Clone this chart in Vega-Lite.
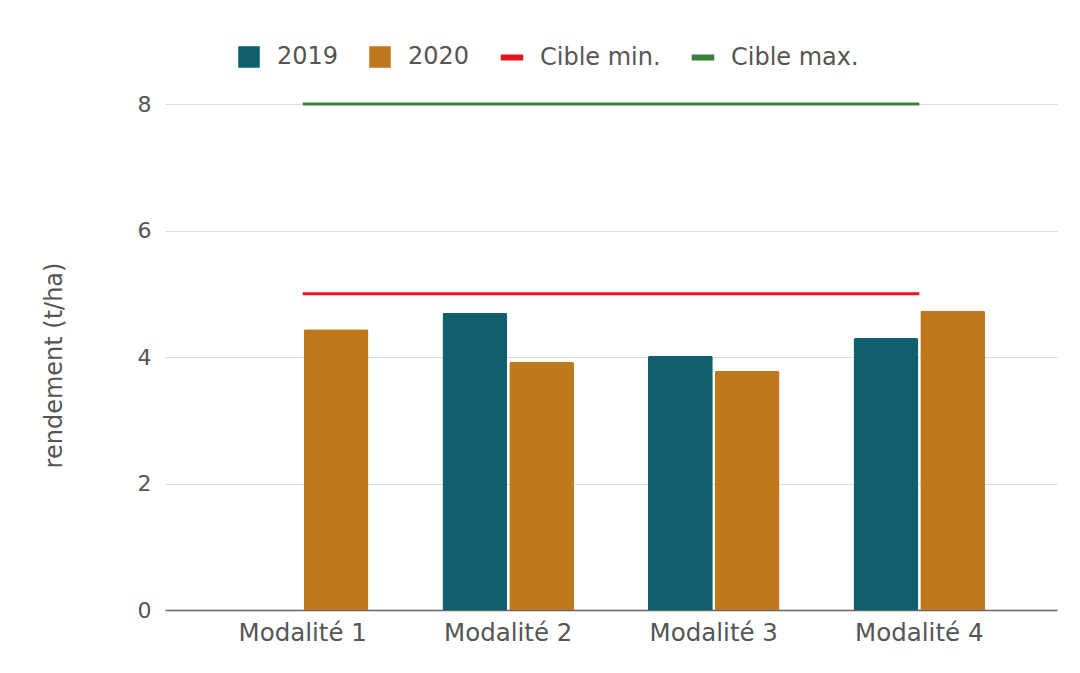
{
  "$schema": "https://vega.github.io/schema/vega-lite/v6.json",
  "autosize": "none",
  "width": 892,
  "height": 506,
  "padding": {"left": 165, "top": 104, "right": 23, "bottom": 63},
  "background": "white",
  "config": {
    "font": "DejaVu Sans",
    "view": {"stroke": null},
    "axis": {"labelFont": "DejaVu Sans", "titleFont": "DejaVu Sans", "labelColor": "#555", "titleColor": "#555"}
  },
  "datasets": {
    "bars": [
      {"modalite": "Modalité 1", "serie": "2020", "rendement": 4.44},
      {"modalite": "Modalité 2", "serie": "2019", "rendement": 4.70},
      {"modalite": "Modalité 2", "serie": "2020", "rendement": 3.92},
      {"modalite": "Modalité 3", "serie": "2019", "rendement": 4.02},
      {"modalite": "Modalité 3", "serie": "2020", "rendement": 3.78},
      {"modalite": "Modalité 4", "serie": "2019", "rendement": 4.30},
      {"modalite": "Modalité 4", "serie": "2020", "rendement": 4.73}
    ],
    "cibles": [
      {"modalite": "Modalité 1", "serie": "Cible min.", "rendement": 5},
      {"modalite": "Modalité 4", "serie": "Cible min.", "rendement": 5},
      {"modalite": "Modalité 1", "serie": "Cible max.", "rendement": 8},
      {"modalite": "Modalité 4", "serie": "Cible max.", "rendement": 8}
    ]
  },
  "layer": [
    {
      "data": {"name": "bars"},
      "mark": {"type": "bar", "cornerRadiusTopLeft": 2, "cornerRadiusTopRight": 2},
      "encoding": {
        "x": {
          "field": "modalite", "type": "nominal",
          "sort": ["Modalité 1", "Modalité 2", "Modalité 3", "Modalité 4"],
          "scale": {"domain": ["Modalité 1", "Modalité 2", "Modalité 3", "Modalité 4"], "paddingInner": 0.36, "paddingOuter": 0.35},
          "axis": {"title": null, "labelAngle": 0, "labelFontSize": 24.5, "labelPadding": 11, "ticks": false, "domainColor": "#666", "domainWidth": 1.5, "grid": false}
        },
        "xOffset": {
          "field": "serie", "type": "nominal",
          "scale": {"domain": ["2019", "2020"], "paddingInner": 0.03, "paddingOuter": 0}
        },
        "y": {
          "field": "rendement", "type": "quantitative",
          "scale": {"domain": [0, 8], "nice": false},
          "axis": {"title": "rendement (t/ha)", "values": [0, 2, 4, 6, 8], "format": "d", "labelFontSize": 22, "labelPadding": 14, "titleFontSize": 24, "titleFontWeight": "normal", "titlePadding": 71, "titleY": 261, "ticks": false, "domain": false, "gridColor": "#dddddd", "gridWidth": 1}
        },
        "color": {
          "field": "serie", "type": "nominal",
          "scale": {"domain": ["2019", "2020", "Cible min.", "Cible max."], "range": ["#0f5f6f", "#c0781c", "#e3161d", "#3e7d3a"]},
          "legend": {
            "title": null,
            "orient": "none",
            "direction": "horizontal",
            "legendX": 72,
            "legendY": -59,
            "padding": 0,
            "symbolSize": 400,
            "labelFontSize": 24,
            "labelColor": "#555",
            "labelFont": "DejaVu Sans",
            "labelOffset": 16,
            "columnPadding": 28,
            "encode": {
              "symbols": {
                "update": {
                  "shape": {"signal": "datum.index < 2 ? 'square' : 'M-1.05,-0.22H1.05V0.22H-1.05Z'"},
                  "fill": {"scale": "color", "field": "value"},
                  "stroke": {"value": "transparent"},
                  "opacity": {"value": 1}
                }
              }
            }
          }
        }
      }
    },
    {
      "data": {"name": "cibles"},
      "mark": {"type": "line", "strokeWidth": 3},
      "encoding": {
        "x": {"field": "modalite", "type": "nominal", "sort": ["Modalité 1", "Modalité 2", "Modalité 3", "Modalité 4"]},
        "y": {"field": "rendement", "type": "quantitative"},
        "color": {"field": "serie", "type": "nominal"},
        "detail": {"field": "serie"}
      }
    }
  ]
}
